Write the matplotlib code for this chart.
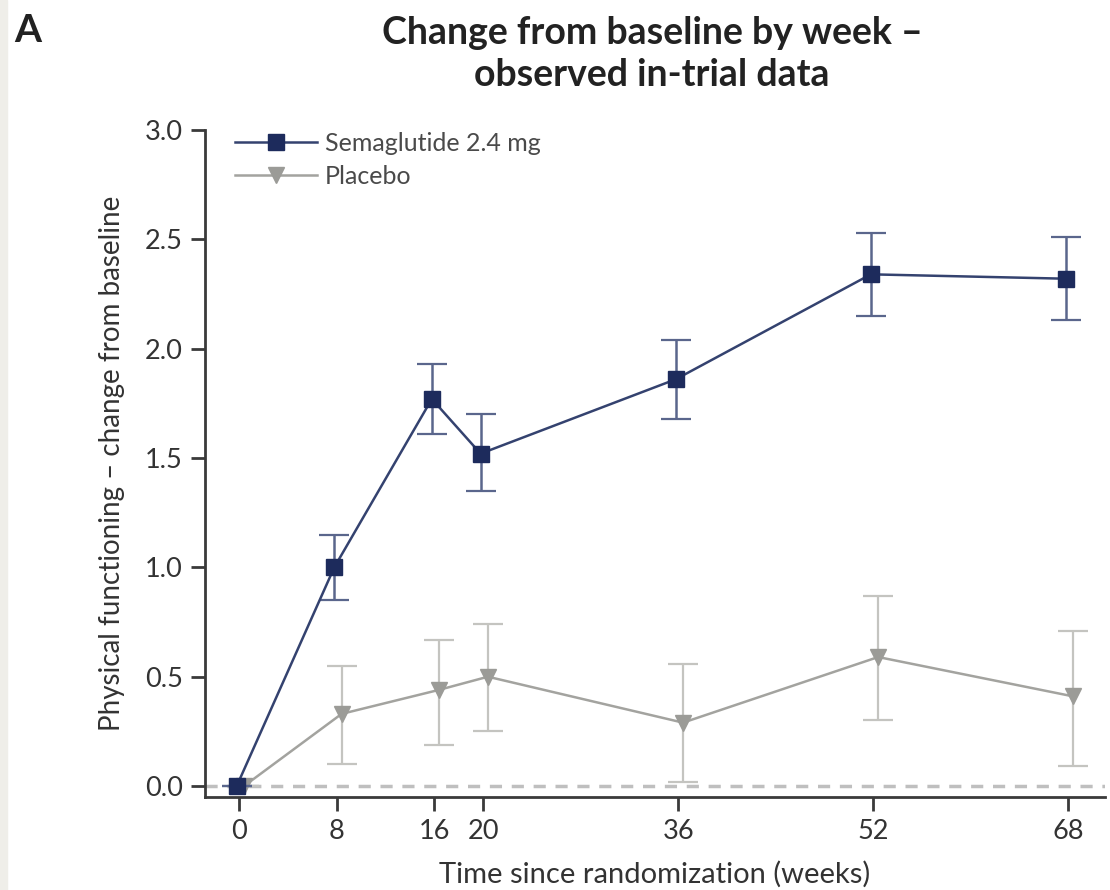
import matplotlib
matplotlib.use("Agg")
import matplotlib.pyplot as plt
from matplotlib.patches import Rectangle

weeks = [0, 8, 16, 20, 36, 52, 68]

sema_mean = [0.0, 1.00, 1.77, 1.52, 1.86, 2.34, 2.32]
sema_lo = [0.0, 0.85, 1.61, 1.35, 1.68, 2.15, 2.13]
sema_hi = [0.0, 1.15, 1.93, 1.70, 2.04, 2.53, 2.51]

plac_mean = [0.0, 0.33, 0.44, 0.50, 0.29, 0.59, 0.41]
plac_lo = [0.0, 0.10, 0.19, 0.25, 0.02, 0.30, 0.09]
plac_hi = [0.0, 0.55, 0.67, 0.74, 0.56, 0.87, 0.71]

yticks = [0.0, 0.5, 1.0, 1.5, 2.0, 2.5, 3.0]

NAVY = "#1d2b5c"
NAVY_LINE = "#34426f"
GREY = "#a3a39f"
GREY_BAR = "#c4c4c0"
TXT = "#333333"

plt.rcParams["font.family"] = ["Lato", "DejaVu Sans"]

fig = plt.figure(figsize=(11.1, 8.9), dpi=100)
fig.patches.append(Rectangle((0, 0), 0.006, 1, transform=fig.transFigure,
                             color="#efeee9", zorder=0))
ax = fig.add_axes([205 / 1110, 1 - 797 / 890, 900 / 1110, 667 / 890])

ax.axhline(0, color="#bfbfbf", lw=2.5, ls=(0, (3.5, 2.8)), zorder=1)

xs = [w - 0.2 for w in weeks]
xp = [w + 0.4 for w in weeks]

ax.errorbar(xp, plac_mean,
            yerr=[[m - l for m, l in zip(plac_mean, plac_lo)],
                  [h - m for m, h in zip(plac_mean, plac_hi)]],
            fmt="none", ecolor=GREY_BAR, elinewidth=1.6, capsize=11,
            capthick=1.6, zorder=2)
ax.plot(xp, plac_mean, color=GREY, lw=1.8, marker="v", ms=11,
        mfc="#9b9b97", mec="#9b9b97", label="Placebo", zorder=3)

ax.errorbar(xs, sema_mean,
            yerr=[[m - l for m, l in zip(sema_mean, sema_lo)],
                  [h - m for m, h in zip(sema_mean, sema_hi)]],
            fmt="none", ecolor="#5a668c", elinewidth=1.8, capsize=11,
            capthick=1.6, zorder=4)
ax.plot(xs, sema_mean, color=NAVY_LINE, lw=1.8, marker="s", ms=11,
        mfc=NAVY, mec=NAVY, label="Semaglutide 2.4 mg", zorder=5)

ax.set_xlim(-2.8, 71.0)
ax.set_ylim(-0.05, 3.0)
ax.set_xticks(weeks)
ax.set_yticks(yticks)
ax.set_yticklabels([f"{v:.1f}" for v in yticks])

for s in ["top", "right"]:
    ax.spines[s].set_visible(False)
for s in ["left", "bottom"]:
    ax.spines[s].set_linewidth(2)
    ax.spines[s].set_color("#3a3a3a")

ax.tick_params(axis="both", direction="out", length=10, width=2,
               color="#3a3a3a", labelsize=19.5, labelcolor=TXT, pad=6)

ax.set_xlabel("Time since randomization (weeks)", fontsize=21, color=TXT,
              labelpad=12)
ax.set_ylabel("Physical functioning \u2013 change from baseline", fontsize=20,
              color=TXT, labelpad=14)

handles, labels = ax.get_legend_handles_labels()
leg = ax.legend(handles[::-1], labels[::-1], loc="upper left",
                bbox_to_anchor=(0.022, 1.012), frameon=False, fontsize=18,
                handlelength=3.3, handletextpad=0.3, labelspacing=0.4,
                borderaxespad=0)
for t in leg.get_texts():
    t.set_color("#4a4a4a")

fig.text(652 / 1110, 1 - 54 / 890,
         "Change from baseline by week \u2013\nobserved in-trial data",
         ha="center", va="center", fontsize=27, fontweight="bold",
         color="#222222", linespacing=1.3)
fig.text(14 / 1110, 1 - 30 / 890, "A", ha="left", va="center",
         fontsize=28, fontweight="bold", color="#222222")

fig.savefig("out.png", dpi=100, facecolor="white")
